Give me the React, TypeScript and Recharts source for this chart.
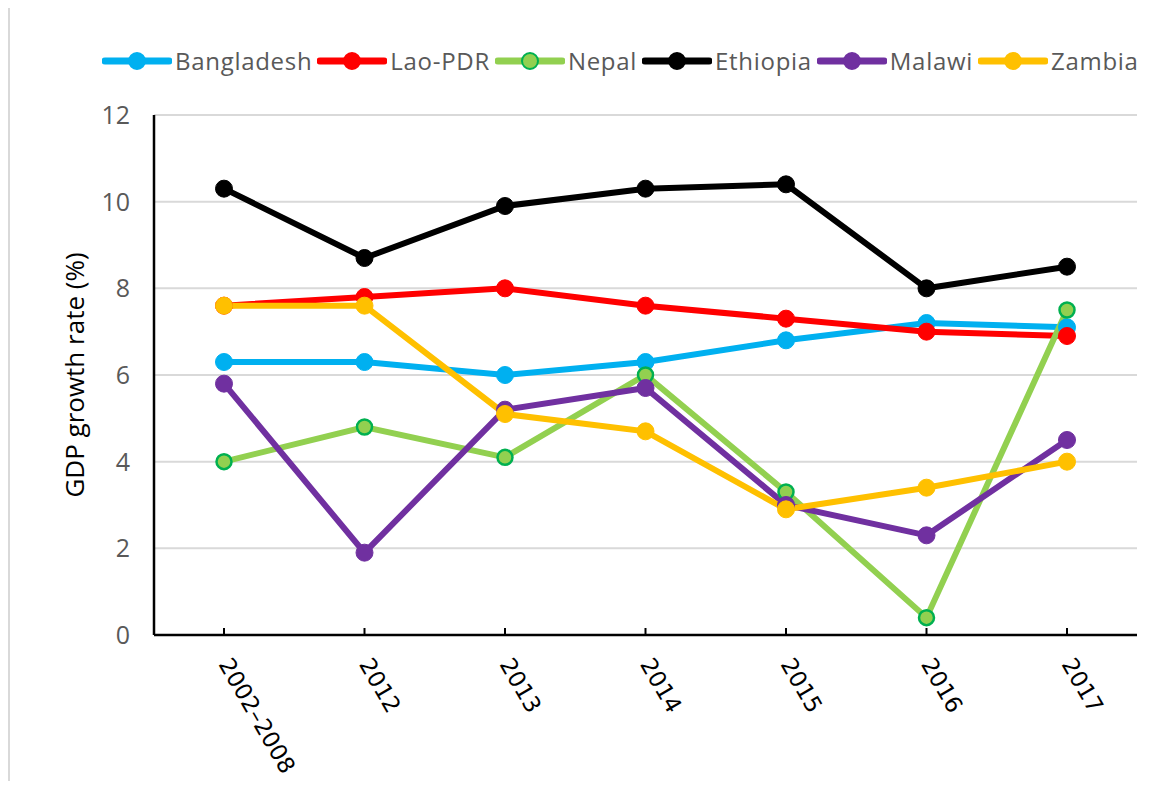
import { CartesianGrid, Label, Line, LineChart, XAxis, YAxis } from 'recharts'

const periods = ['2002–2008', '2012', '2013', '2014', '2015', '2016', '2017']
const bangladesh = [6.3, 6.3, 6.0, 6.3, 6.8, 7.2, 7.1]
const laoPdr = [7.6, 7.8, 8.0, 7.6, 7.3, 7.0, 6.9]
const nepal = [4.0, 4.8, 4.1, 6.0, 3.3, 0.4, 7.5]
const ethiopia = [10.3, 8.7, 9.9, 10.3, 10.4, 8.0, 8.5]
const malawi = [5.8, 1.9, 5.2, 5.7, 3.0, 2.3, 4.5]
const zambia = [7.6, 7.6, 5.1, 4.7, 2.9, 3.4, 4.0]
const yTicks = [0, 2, 4, 6, 8, 10, 12]

const series = [
  { key: 'Bangladesh', values: bangladesh, color: '#00b0f0', dotFill: '#00b0f0', dotStroke: '#00b0f0' },
  { key: 'Lao-PDR', values: laoPdr, color: '#ff0000', dotFill: '#ff0000', dotStroke: '#ff0000' },
  { key: 'Nepal', values: nepal, color: '#92d050', dotFill: '#92d050', dotStroke: '#00b050' },
  { key: 'Ethiopia', values: ethiopia, color: '#000000', dotFill: '#000000', dotStroke: '#000000' },
  { key: 'Malawi', values: malawi, color: '#7030a0', dotFill: '#7030a0', dotStroke: '#7030a0' },
  { key: 'Zambia', values: zambia, color: '#ffc000', dotFill: '#ffc000', dotStroke: '#ffc000' },
]

const data = periods.map((period, i) => {
  const row: Record<string, string | number> = { period }
  series.forEach((s) => {
    row[s.key] = s.values[i]
  })
  return row
})

const FONT = '"Open Sans", sans-serif'

function XTick({ x, y, payload }: any) {
  return (
    <g transform={`translate(${x - 6},${y + 34})`}>
      <text transform="rotate(60)" textAnchor="start" fontSize={23} fill="#000" fontFamily='"DejaVu Sans", sans-serif'>
        {payload.value}
      </text>
    </g>
  )
}

function YLabel({ viewBox }: any) {
  const cy = viewBox.y + viewBox.height / 2
  return (
    <text
      x={84}
      y={cy}
      transform={`rotate(-90, 84, ${cy})`}
      textAnchor="middle"
      fontSize={26}
      fill="#000"
      fontFamily={FONT}
    >
      GDP growth rate (%)
    </text>
  )
}

function LegendRow() {
  return (
    <div
      style={{
        position: 'absolute',
        top: 44,
        left: 102,
        display: 'flex',
        alignItems: 'center',
        fontFamily: FONT,
        fontSize: 24,
        letterSpacing: 0.7,
        color: '#595959',
      }}
    >
      {series.map((s) => (
        <div key={s.key} style={{ display: 'flex', alignItems: 'center', marginRight: 5 }}>
          <svg width={70} height={22}>
            <line x1={3} y1={11} x2={67} y2={11} stroke={s.color} strokeWidth={7} strokeLinecap="round" />
            <circle cx={35} cy={11} r={8} fill={s.dotFill} stroke={s.dotStroke} strokeWidth={2} />
          </svg>
          <span style={{ marginLeft: 3 }}>{s.key}</span>
        </div>
      ))}
    </div>
  )
}

export default function App() {
  return (
    <div style={{ position: 'relative', width: 1166, height: 789, margin: -8, background: '#fff' }}>
      <div
        style={{
          position: 'absolute',
          left: 8,
          top: 3,
          right: 0,
          bottom: 0,
          borderTop: '2px solid #d9d9d9',
          borderLeft: '2px solid #d9d9d9',
        }}
      />
      <LegendRow />
      <LineChart
        width={1166}
        height={789}
        data={data}
        margin={{ top: 115, right: 29, left: 0, bottom: 0 }}
        style={{ position: 'absolute', top: 0, left: 0 }}
      >
        <CartesianGrid horizontal vertical={false} stroke="#d9d9d9" strokeWidth={2} />
        <XAxis
          dataKey="period"
          height={154}
          padding={{ left: 70, right: 70 }}
          axisLine={{ stroke: '#000', strokeWidth: 2.5 }}
          tickLine={{ stroke: '#000', strokeWidth: 2 }}
          tickSize={-7}
          tick={<XTick />}
          interval={0}
        />
        <YAxis
          domain={[0, 12]}
          ticks={yTicks}
          width={154}
          axisLine={{ stroke: '#000', strokeWidth: 2.5 }}
          tickLine={false}
          tickSize={0}
          tickMargin={24}
          tick={{ fill: '#595959', fontSize: 25, fontFamily: FONT }}
        >
          <Label content={<YLabel />} />
        </YAxis>
        {series.map((s) => (
          <Line
            key={s.key}
            dataKey={s.key}
            stroke={s.color}
            strokeWidth={6}
            dot={{ r: s.key === 'Nepal' ? 7.5 : 8.5, fill: s.dotFill, stroke: s.dotStroke, strokeWidth: s.key === 'Nepal' ? 2.5 : 1 }}
            isAnimationActive={false}
          />
        ))}
      </LineChart>
    </div>
  )
}
